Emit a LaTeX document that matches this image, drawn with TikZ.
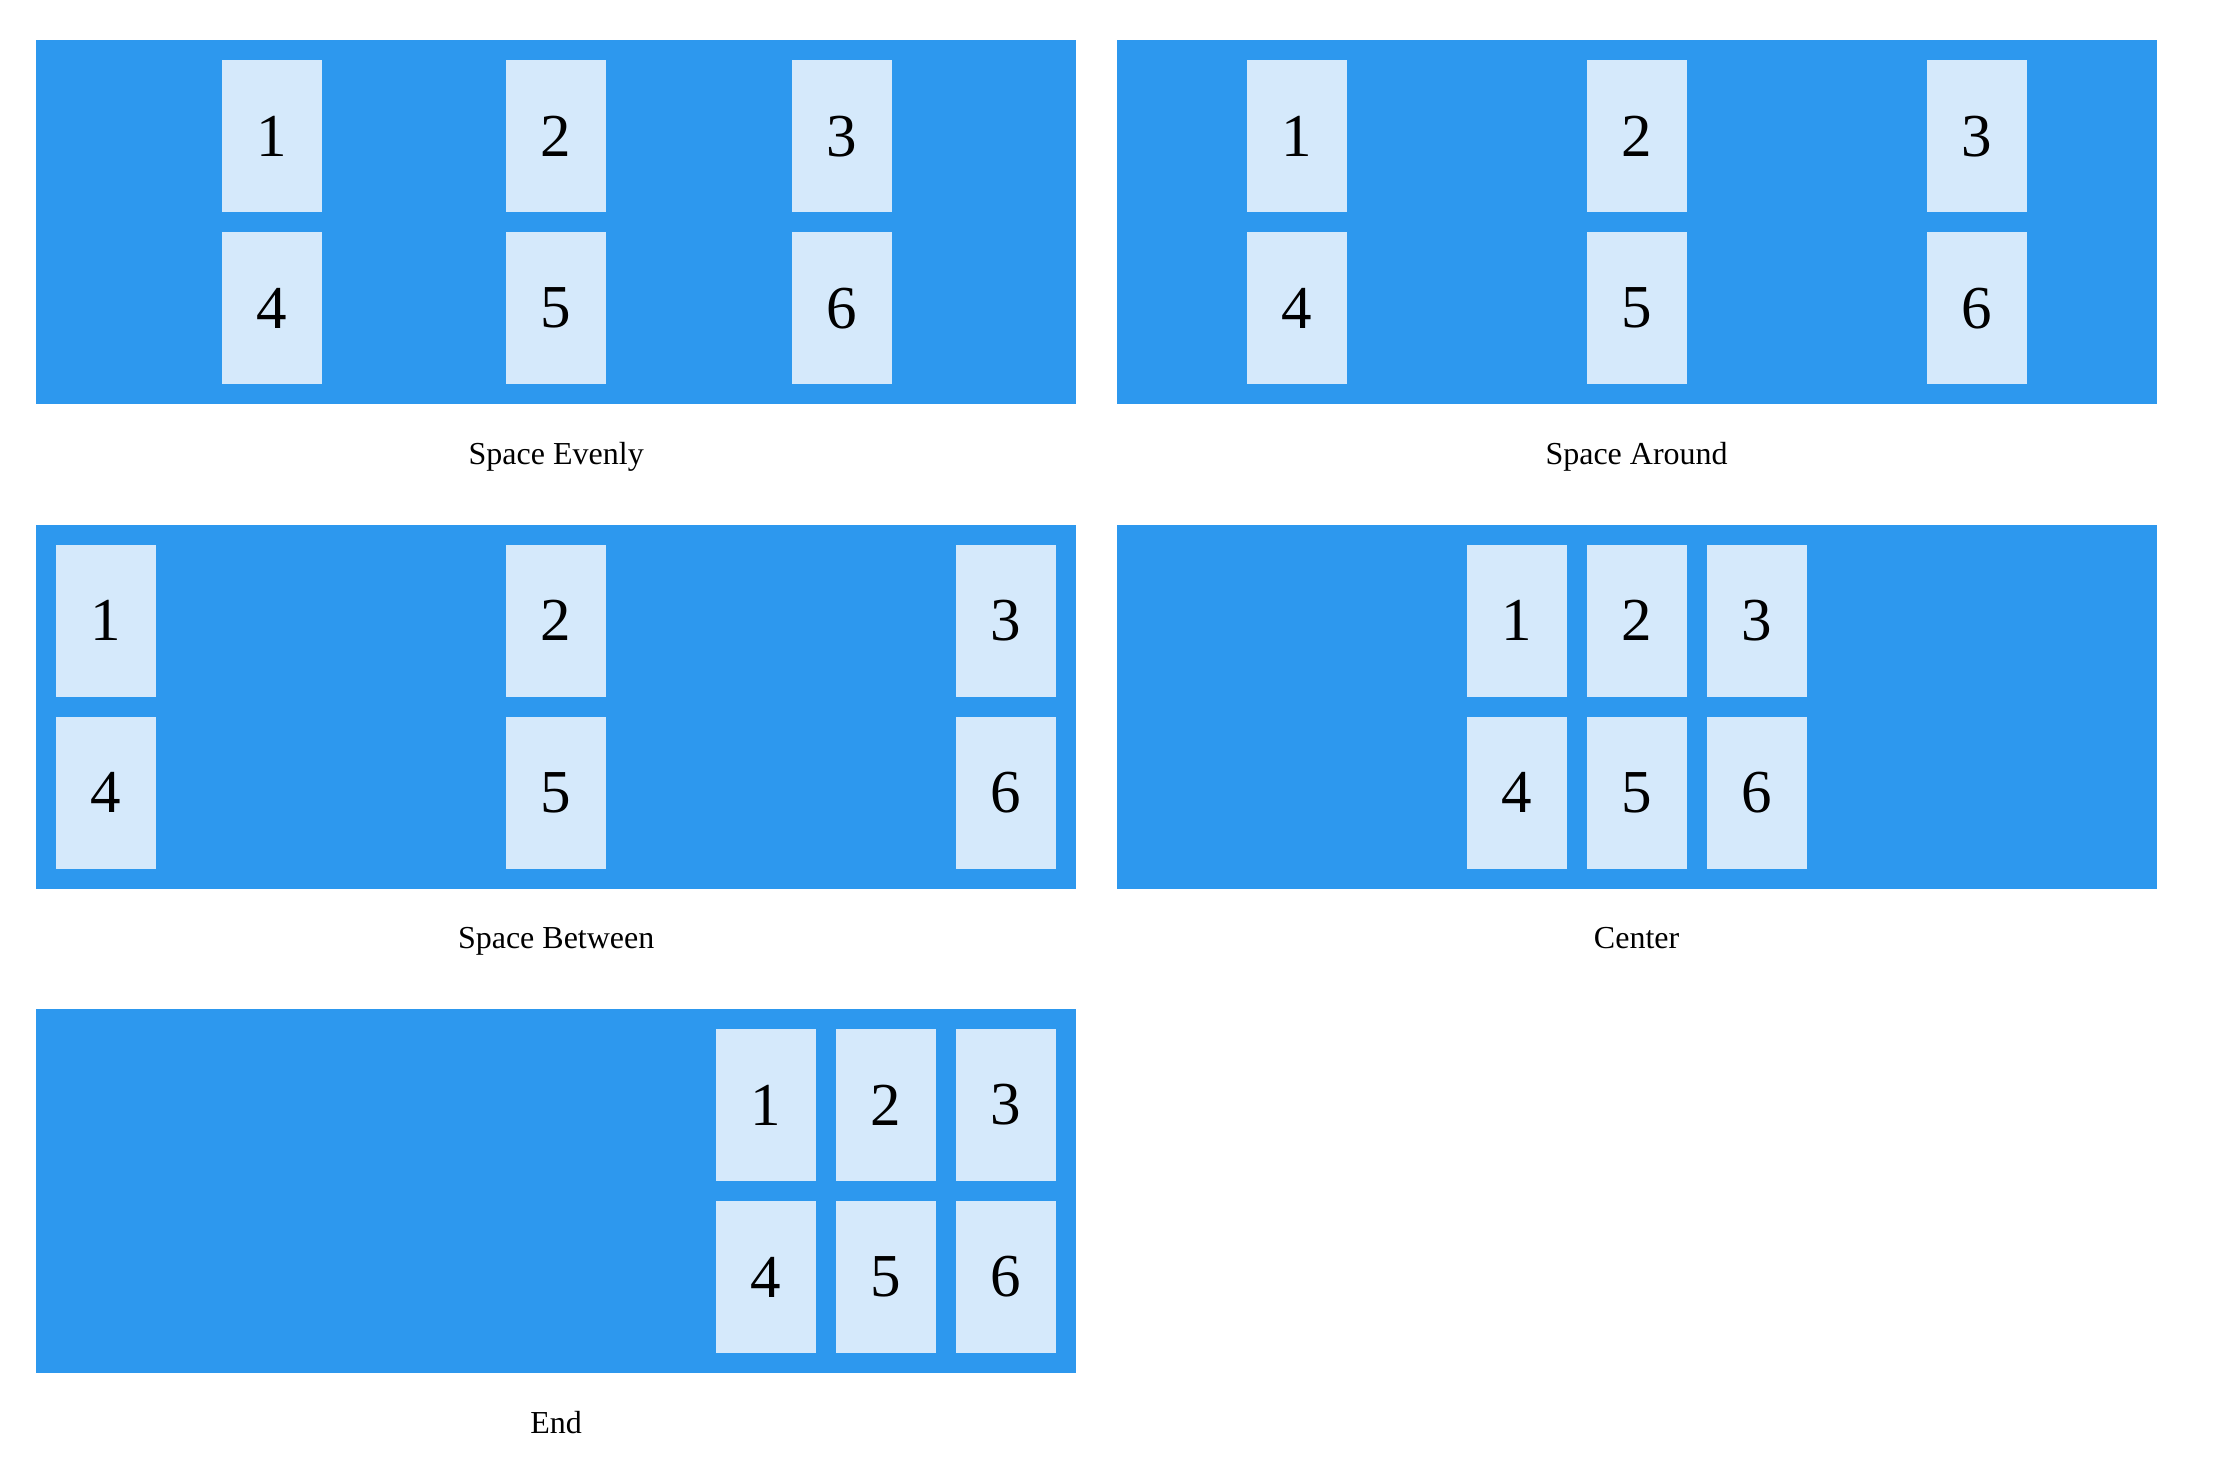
\documentclass[tikz,border=0pt]{standalone}
\usepackage{fontspec}
\setmainfont{Liberation Serif}
\usetikzlibrary{positioning}

\definecolor{flexblue}{HTML}{2D98EE}
\definecolor{itemblue}{HTML}{D5E9FB}

\begin{document}
\begin{tikzpicture}[x=1pt, y=1pt,
  container/.style =
    {shape=rectangle, fill=flexblue, inner sep=0pt,
    minimum width=1040pt, minimum height=364pt, anchor=north west},
  item/.style =
    {shape=rectangle, fill=itemblue, inner sep=0pt,
    minimum width=100pt, minimum height=152pt, anchor=north west,
    font=\fontsize{61}{61}\selectfont},
  caption/.style =
    {inner sep=0pt, font=\fontsize{32}{32}\selectfont}
]

  \useasboundingbox (0,0) rectangle (2226,-1468);

  % the five containers
  \node[container] (evenly) at (36,-40) {};
  \node[container, right=40pt of evenly] (around) {};
  \node[container, below=120pt of evenly] (between) {};
  \node[container, right=40pt of between] (centered) {};
  \node[container, below=120pt of between] (flexend) {};

  % items, two rows of three
  \foreach \name/\xa/\xb/\xc in {evenly/186/470/756, around/130/470/810,
      between/20/470/920, centered/350/470/590, flexend/680/800/920} {
    \foreach \x [count=\i] in {\xa,\xb,\xc} {
      \pgfmathtruncatemacro\j{\i+3}
      \node[item] (\name-\i) at ([shift={(\x,-20)}]\name.north west) {\i};
      \node[item] (\name-\j) at ([shift={(\x,-192)}]\name.north west) {\j};
    }
  }

  % captions
  \node[caption, below=60pt of evenly, anchor=base] (evenlytext) {Space Evenly};
  \node[caption, below=60pt of around, anchor=base] (aroundtext) {Space Around};
  \node[caption, below=60pt of between, anchor=base] (betweentext) {Space Between};
  \node[caption, below=60pt of centered, anchor=base] (centeredtext) {Center};
  \node[caption, below=60pt of flexend, anchor=base] (flexendtext) {End};

\end{tikzpicture}
\end{document}
